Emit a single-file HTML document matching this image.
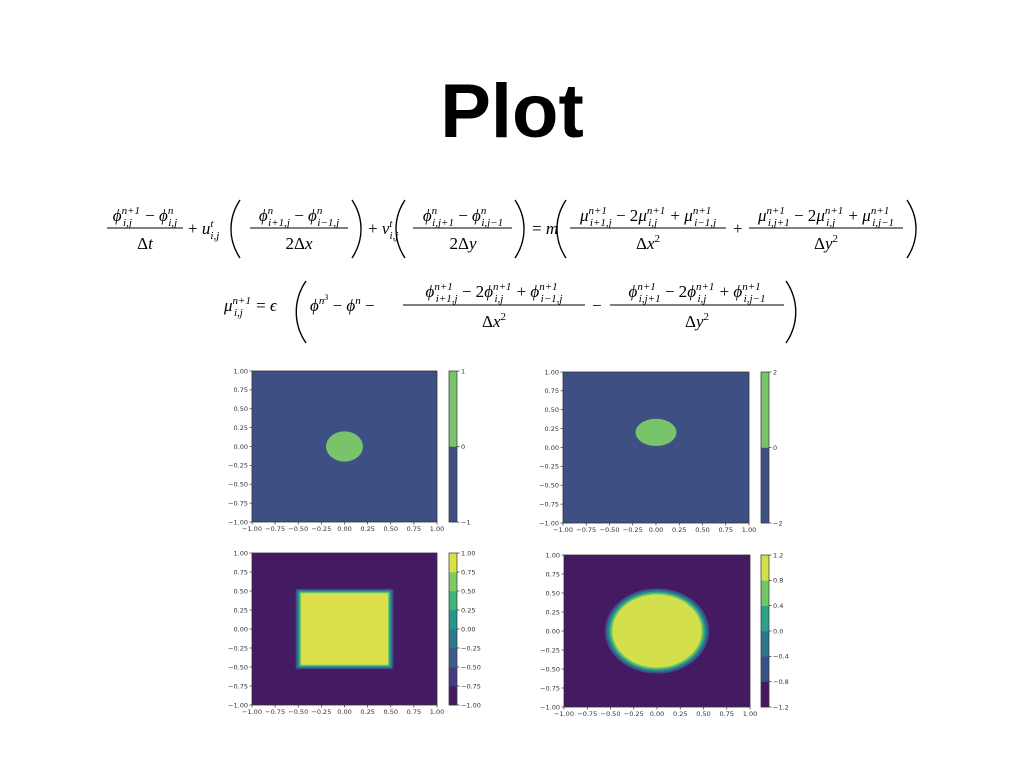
<!DOCTYPE html>
<html><head><meta charset="utf-8"><style>
html,body{margin:0;padding:0;background:#fff;}
svg{display:block;}
.m{font-family:"Liberation Serif",serif;font-style:italic;font-size:17px;fill:#000;}
.r{font-style:normal;}
.pp{fill:none;stroke:#000;stroke-width:1.4;}
.t{font-family:"DejaVu Sans",sans-serif;font-size:6.5px;fill:#333;}
</style></head><body>
<svg id="s" width="1024" height="768" viewBox="0 0 1024 768" xmlns="http://www.w3.org/2000/svg">
<text x="512" y="137" text-anchor="middle" font-family="Liberation Sans, sans-serif" font-weight="bold" font-size="76">Plot</text>

<g>
<text class="m" x="145" y="221" text-anchor="middle">ϕ<tspan font-size="11" dy="-7">n+1</tspan><tspan font-size="11" dx="-17" dy="12">i,j</tspan><tspan class="r" dx="9" dy="-5"> − </tspan>ϕ<tspan font-size="11" dy="-7">n</tspan><tspan font-size="11" dx="-5" dy="12">i,j</tspan></text>
<line x1="107" y1="228" x2="183" y2="228" stroke="#000" stroke-width="1"/>
<text class="m" x="145" y="249" text-anchor="middle"><tspan class="r">Δ</tspan>t</text>
<text class="m" x="188" y="234"><tspan class="r">+ </tspan>u<tspan font-size="11" dy="-7">t</tspan><tspan font-size="11" dx="-3" dy="12">i,j</tspan></text>
<path class="pp" d="M240 200 C228 218 228 240 240 258"/>
<text class="m" x="299" y="221" text-anchor="middle">ϕ<tspan font-size="11" dy="-7">n</tspan><tspan font-size="11" dx="-5" dy="12">i+1,j</tspan><tspan class="r" dy="-5"> − </tspan>ϕ<tspan font-size="11" dy="-7">n</tspan><tspan font-size="11" dx="-5" dy="12">i−1,j</tspan></text>
<line x1="250" y1="228" x2="348" y2="228" stroke="#000"/>
<text class="m" x="299" y="249" text-anchor="middle"><tspan class="r">2Δ</tspan>x</text>
<path class="pp" d="M352 200 C364 218 364 240 352 258"/>
<text class="m" x="368" y="234"><tspan class="r">+ </tspan>v<tspan font-size="11" dy="-7">t</tspan><tspan font-size="11" dx="-3" dy="12">i,j</tspan></text>
<path class="pp" d="M405 200 C393 218 393 240 405 258"/>
<text class="m" x="463" y="221" text-anchor="middle">ϕ<tspan font-size="11" dy="-7">n</tspan><tspan font-size="11" dx="-5" dy="12">i,j+1</tspan><tspan class="r" dy="-5"> − </tspan>ϕ<tspan font-size="11" dy="-7">n</tspan><tspan font-size="11" dx="-5" dy="12">i,j−1</tspan></text>
<line x1="413" y1="228" x2="512" y2="228" stroke="#000"/>
<text class="m" x="463" y="249" text-anchor="middle"><tspan class="r">2Δ</tspan>y</text>
<path class="pp" d="M515 200 C527 218 527 240 515 258"/>
<text class="m" x="532" y="234"><tspan class="r">= </tspan>m</text>
<path class="pp" d="M566 200 C554 218 554 240 566 258"/>
<text class="m" x="648" y="221" text-anchor="middle">μ<tspan font-size="11" dy="-7">n+1</tspan><tspan font-size="11" dx="-17" dy="12">i+1,j</tspan><tspan class="r" dy="-5"> − 2</tspan>μ<tspan font-size="11" dy="-7">n+1</tspan><tspan font-size="11" dx="-17" dy="12">i,j</tspan><tspan class="r" dx="9" dy="-5"> + </tspan>μ<tspan font-size="11" dy="-7">n+1</tspan><tspan font-size="11" dx="-17" dy="12">i−1,j</tspan></text>
<line x1="570" y1="228" x2="726" y2="228" stroke="#000"/>
<text class="m" x="648" y="249" text-anchor="middle"><tspan class="r">Δ</tspan>x<tspan class="r" font-size="11" dy="-7">2</tspan></text>
<text class="m r" x="733" y="234">+</text>
<text class="m" x="826" y="221" text-anchor="middle">μ<tspan font-size="11" dy="-7">n+1</tspan><tspan font-size="11" dx="-17" dy="12">i,j+1</tspan><tspan class="r" dy="-5"> − 2</tspan>μ<tspan font-size="11" dy="-7">n+1</tspan><tspan font-size="11" dx="-17" dy="12">i,j</tspan><tspan class="r" dx="9" dy="-5"> + </tspan>μ<tspan font-size="11" dy="-7">n+1</tspan><tspan font-size="11" dx="-17" dy="12">i,j−1</tspan></text>
<line x1="749" y1="228" x2="903" y2="228" stroke="#000"/>
<text class="m" x="826" y="249" text-anchor="middle"><tspan class="r">Δ</tspan>y<tspan class="r" font-size="11" dy="-7">2</tspan></text>
<path class="pp" d="M907 200 C919 218 919 240 907 258"/>
</g>

<g>
<text class="m" x="224" y="311">μ<tspan font-size="11" dy="-7">n+1</tspan><tspan font-size="11" dx="-17" dy="12">i,j</tspan><tspan class="r" dx="9" dy="-5"> = </tspan>ϵ</text>
<path class="pp" d="M306 281 C293 300 293 324 306 343"/>
<text class="m" x="310" y="311">ϕ<tspan font-size="11" dy="-7">n</tspan><tspan font-size="8" dy="-4">3</tspan><tspan class="r" dy="11"> − </tspan>ϕ<tspan font-size="11" dy="-7">n</tspan><tspan class="r" dy="7"> −</tspan></text>
<text class="m" x="494" y="297" text-anchor="middle">ϕ<tspan font-size="11" dy="-7">n+1</tspan><tspan font-size="11" dx="-17" dy="12">i+1,j</tspan><tspan class="r" dy="-5"> − 2</tspan>ϕ<tspan font-size="11" dy="-7">n+1</tspan><tspan font-size="11" dx="-17" dy="12">i,j</tspan><tspan class="r" dx="9" dy="-5"> + </tspan>ϕ<tspan font-size="11" dy="-7">n+1</tspan><tspan font-size="11" dx="-17" dy="12">i−1,j</tspan></text>
<line x1="403" y1="305" x2="585" y2="305" stroke="#000"/>
<text class="m" x="494" y="327" text-anchor="middle"><tspan class="r">Δ</tspan>x<tspan class="r" font-size="11" dy="-7">2</tspan></text>
<text class="m r" x="592" y="311">−</text>
<text class="m" x="697" y="297" text-anchor="middle">ϕ<tspan font-size="11" dy="-7">n+1</tspan><tspan font-size="11" dx="-17" dy="12">i,j+1</tspan><tspan class="r" dy="-5"> − 2</tspan>ϕ<tspan font-size="11" dy="-7">n+1</tspan><tspan font-size="11" dx="-17" dy="12">i,j</tspan><tspan class="r" dx="9" dy="-5"> + </tspan>ϕ<tspan font-size="11" dy="-7">n+1</tspan><tspan font-size="11" dx="-17" dy="12">i,j−1</tspan></text>
<line x1="610" y1="305" x2="784" y2="305" stroke="#000"/>
<text class="m" x="697" y="327" text-anchor="middle"><tspan class="r">Δ</tspan>y<tspan class="r" font-size="11" dy="-7">2</tspan></text>
<path class="pp" d="M786 281 C799 300 799 324 786 343"/>
</g>
<g id="charts"></g>
</svg>
<script>
const axisTicks=[-1,-0.75,-0.5,-0.25,0,0.25,0.5,0.75,1];
const axisLabels=["−1.00","−0.75","−0.50","−0.25","0.00","0.25","0.50","0.75","1.00"];
// panel 1
const p1Levels=[-1,0,1];
const p1Colors=["#3e4f84","#79c46b"];
const p1Labels=["−1","0","1"];
const p1Shape={cx:0,cy:0,rx:0.2,ry:0.2};
// panel 2
const p2Levels=[-2,0,2];
const p2Colors=["#3e4f84","#79c46b"];
const p2Labels=["−2","0","2"];
const p2Shape={cx:0,cy:0.2,rx:0.22,ry:0.18};
// panel 3
const p3Levels=[-1,-0.75,-0.5,-0.25,0,0.25,0.5,0.75,1];
const p3Colors=["#441a62","#453d84","#3a5c8c","#2f798d","#26958a","#3fb37a","#7ecb5f","#dbe04a"];
const p3Labels=["−1.00","−0.75","−0.50","−0.25","0.00","0.25","0.50","0.75","1.00"];
const p3Bands=[0.53,0.52,0.51,0.50,0.49,0.48,0.47];
// panel 4
const p4Levels=[-1.2,-0.8,-0.4,0,0.4,0.8,1.2];
const p4Colors=["#441a62","#3d4f88","#2e738e","#2ea187","#70c763","#d3e04c"];
const p4Labels=["−1.2","−0.8","−0.4","0.0","0.4","0.8","1.2"];
const p4Bands=[0.56,0.54,0.52,0.50,0.48];

const NS="http://www.w3.org/2000/svg";
const root=document.getElementById('charts');
function mk(tag,attrs,parent){const e=document.createElementNS(NS,tag);for(const k in attrs)e.setAttribute(k,attrs[k]);parent.appendChild(e);return e;}

function panel(name,L,T,W,H,cbx,levels,colors,labels,drawShape){
  const g=mk('g',{},root);
  
  
  const sx=v=>L+(v+1)/2*W, sy=v=>T+(1-v)/2*H;
  const bg=mk('rect',{x:L,y:T,width:W,height:H,fill:colors[0]},g);
  
  
  drawShape(g,sx,sy,W,H);
  mk('rect',{x:L,y:T,width:W,height:H,fill:'none',stroke:'#333','stroke-width':0.8},g);
  axisTicks.forEach((v,i)=>{
    mk('line',{x1:sx(v),x2:sx(v),y1:T+H,y2:T+H+2.5,stroke:'#333','stroke-width':0.7},g);
    const tx=mk('text',{x:sx(v),y:T+H+9,'text-anchor':'middle',class:'t'},g);
    tx.textContent=axisLabels[i];
    
    
    mk('line',{x1:L-2.5,x2:L,y1:sy(v),y2:sy(v),stroke:'#333','stroke-width':0.7},g);
    const ty=mk('text',{x:L-4,y:sy(v)+2.3,'text-anchor':'end',class:'t'},g);
    ty.textContent=axisLabels[i];
    
    
  });
  const lo=levels[0],hi=levels[levels.length-1];
  const cy=v=>T+(hi-v)/(hi-lo)*H;
  const cb=mk('g',{},g);
  
  
  for(let i=0;i<colors.length;i++){
    const r=mk('rect',{x:cbx,y:cy(levels[i+1]),width:8,height:cy(levels[i])-cy(levels[i+1])+0.3,fill:colors[i]},cb);
    
    
  }
  mk('rect',{x:cbx,y:T,width:8,height:H,fill:'none',stroke:'#333','stroke-width':0.7},cb);
  levels.forEach((v,i)=>{
    mk('line',{x1:cbx+8,x2:cbx+10.5,y1:cy(v),y2:cy(v),stroke:'#333','stroke-width':0.7},cb);
    const t=mk('text',{x:cbx+12,y:cy(v)+2.3,class:'t'},cb);
    t.textContent=labels[i];
    
    
  });
}

function ellipse(shape,color){return (g,sx,sy,W,H)=>{
  const e=mk('ellipse',{cx:sx(shape.cx),cy:sy(shape.cy),rx:shape.rx*W/2,ry:shape.ry*H/2,fill:color},g);
  
  
};}

panel('plot-phi-initial',252,371,185,151,449,p1Levels,p1Colors,p1Labels,ellipse(p1Shape,p1Colors[1]));
panel('plot-phi-advected',563,372,186,151,761,p2Levels,p2Colors,p2Labels,ellipse(p2Shape,p2Colors[1]));
panel('plot-square-initial',252,553,185,152,449,p3Levels,p3Colors,p3Labels,(g,sx,sy)=>{
  p3Bands.forEach((h,i)=>{
    const r=mk('rect',{x:sx(-h),y:sy(h),width:sx(h)-sx(-h),height:sy(-h)-sy(h),rx:i<3?2:1,fill:p3Colors[i+1]},g);
    
    
  });
});
panel('plot-square-relaxed',564,555,186,152,761,p4Levels,p4Colors,p4Labels,(g,sx,sy,W,H)=>{
  p4Bands.forEach((h,i)=>{
    const e=mk('ellipse',{cx:sx(0),cy:sy(0),rx:h*W/2,ry:h*H/2,fill:p4Colors[i+1]},g);
    
    
  });
});
</script>
</body></html>
